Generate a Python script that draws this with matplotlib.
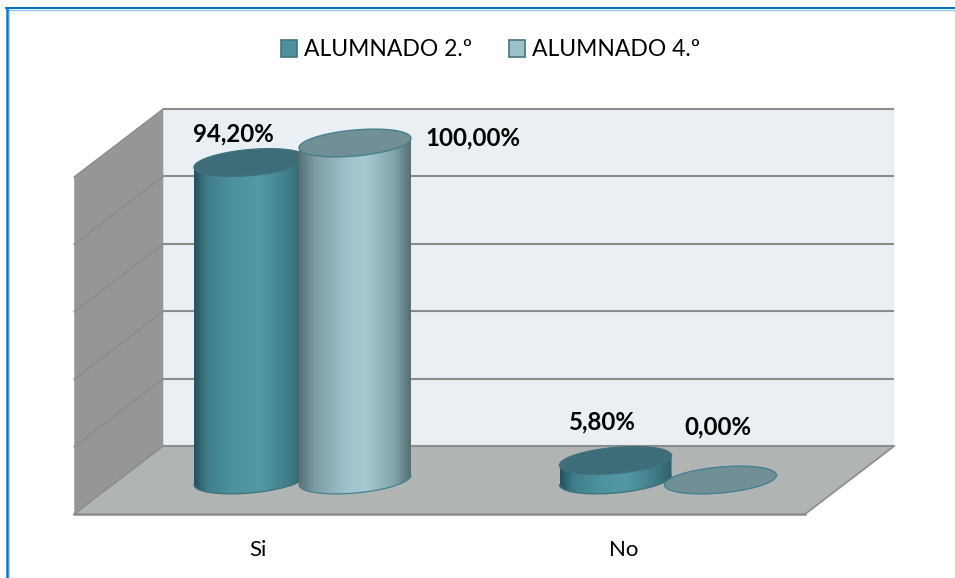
import numpy as np
import matplotlib
matplotlib.use("Agg")
import matplotlib.pyplot as plt
from matplotlib.colors import LinearSegmentedColormap
from matplotlib.lines import Line2D
from matplotlib.patches import Patch, PathPatch, Polygon
from matplotlib.path import Path

categories = ["Si", "No"]
series_names = ["ALUMNADO 2.º", "ALUMNADO 4.º"]
alumnado_2 = [94.2, 5.8]
alumnado_4 = [100.0, 0.0]
labels_2 = ["94,20%", "5,80%"]
labels_4 = ["100,00%", "0,00%"]
grid_values = [0, 20, 40, 60, 80, 100]

plt.rcParams["font.family"] = ["Lato", "DejaVu Sans"]

W, H = 955, 578
PX_X = 365.5   # pixels per category
PX_Y = 3.37    # pixels per percent
ORIGIN_X = 302.5  # pixel of category 0
ORIGIN_Y = 480    # pixel of value 0, middle of the floor depth

fig = plt.figure(figsize=(W / 100, H / 100), dpi=100, facecolor="white")
ax = fig.add_axes([0, 0, 1, 1])
ax.axis("off")

DX = 44.5 / PX_X
DY = 34 / PX_Y
X0, X1 = -0.5 - 1 / PX_X, 1.5 - 1 / PX_X
GRID = "#8b8c8c"

# paredes y suelo
ax.add_patch(Polygon([(X0 + DX, DY), (X1 + DX, DY), (X1 + DX, 100 + DY), (X0 + DX, 100 + DY)],
                     fc="#e9eff2", ec="none", zorder=1))
ax.add_patch(Polygon([(X0 - DX, -DY), (X0 + DX, DY), (X0 + DX, 100 + DY), (X0 - DX, 100 - DY)],
                     fc="#949697", ec="none", zorder=1))
ax.add_patch(Polygon([(X0 - DX, -DY), (X1 - DX, -DY), (X1 + DX, DY), (X0 + DX, DY)],
                     fc="#b0b5b4", ec="none", zorder=1))
for v in grid_values:
    ax.plot([X0 + DX, X1 + DX], [v + DY, v + DY], color=GRID, lw=1.5, zorder=2, solid_capstyle="butt")
    ax.plot([X0 - DX, X0 + DX], [v - DY, v + DY], color=GRID, lw=1.1, zorder=2)
ax.plot([X0 - DX, X1 - DX], [-DY, -DY], color=GRID, lw=1.8, zorder=2)
ax.plot([X1 - DX, X1 + DX], [-DY, DY], color=GRID, lw=1.2, zorder=2)

HALF = 0.1532    # half width of a cylinder, in categories
OFFSET = 0.1436  # distance from the category centre to each cylinder
B = 3.86         # ellipse semi-minor, in percent
SHEAR = 9.3      # percent per category
t = np.linspace(0, 2 * np.pi, 121)


def cylinder(xc, value, stops, top_fc, edge, z):
    ex = HALF * np.cos(t)
    ey = B * np.sin(t) + SHEAR * ex
    if value > 0:
        lower = (t >= np.pi)
        xs = np.r_[xc + ex[lower], xc + ex[lower][::-1]]
        ys = np.r_[ey[lower], value + SHEAR * ex[lower][::-1]]
        body = Path(np.c_[xs, ys])
        cmap = LinearSegmentedColormap.from_list("cyl", stops)
        im = ax.imshow(np.linspace(0, 1, 256)[None, :], cmap=cmap, aspect="auto",
                       extent=(xc - HALF, xc + HALF, -10, value + 10), zorder=z)
        patch = PathPatch(body, fc="none", ec="none", transform=ax.transData)
        ax.add_patch(patch)
        im.set_clip_path(patch)
        ax.plot(xc + ex[lower], ey[lower], color=edge, lw=0.9, zorder=z + 0.1)
    ax.add_patch(Polygon(np.c_[xc + ex, value + ey], fc=top_fc, ec=edge, lw=1.0, zorder=z + 0.2))


stops_2 = [(0, "#24525c"), (0.12, "#3f7d89"), (0.35, "#4e919e"), (0.6, "#5398a5"), (0.85, "#3f7c87"), (1, "#2e5f69")]
stops_4 = [(0, "#5a7076"), (0.15, "#7f9ea6"), (0.45, "#a0c5ce"), (0.6, "#a5cad2"), (0.85, "#83a4ac"), (1, "#566e72")]

for i in range(len(categories)):
    cylinder(i - OFFSET, alumnado_2[i], stops_2, "#3e6c78", "#40717c", 3 + i)
    cylinder(i + OFFSET, alumnado_4[i], stops_4, "#719095", "#46818d", 3.5 + i)

# etiquetas: desplazamiento en pixeles desde el centro de la tapa
offs_2 = [(-17, 29), (-13, 39)]
offs_4 = [(118, 5), (-3, 53)]
for i in range(len(categories)):
    ax.annotate(labels_2[i], (i - OFFSET, alumnado_2[i]), xytext=offs_2[i], textcoords="offset pixels",
                ha="center", va="center", fontsize=17.3, fontweight="bold", color="black", zorder=10)
    ax.annotate(labels_4[i], (i + OFFSET, alumnado_4[i]), xytext=offs_4[i], textcoords="offset pixels",
                ha="center", va="center", fontsize=17.3, fontweight="bold", color="black", zorder=10)
    ax.text(i - DX, -2 * DY - 0.6, categories[i], ha="center", va="center",
            fontsize=16, color="black", zorder=10)

handles = [Patch(fc="#4f8f9b", ec="#3f7680", lw=1.2, label=series_names[0]),
           Patch(fc="#9cc3ca", ec="#44757f", lw=1.2, label=series_names[1])]
ax.legend(handles=handles, ncol=2, frameon=False, loc="center", bbox_to_anchor=(490.5 / W, 1 - 50 / H),
          bbox_transform=fig.transFigure, fontsize=16.5, handlelength=0.7, handleheight=0.7,
          handletextpad=0.3, columnspacing=1.6, borderpad=0, labelcolor="black")

# marco azul
for (xs, ys, c, lw) in [([6.5, W], [9.8, 9.8], "#8ec5ee", 1.0), ([8.6, 8.6], [9, H], "#a9d3f2", 0.8),
                        ([6, W], [8.3, 8.3], "#0070c0", 1.4), ([6.8, 6.8], [8, H], "#0e78c8", 1.8)]:
    fig.add_artist(Line2D(np.array(xs) / W, 1 - np.array(ys) / H, color=c, lw=lw, transform=fig.transFigure))

ax.set_xlim((0 - ORIGIN_X) / PX_X, (W - ORIGIN_X) / PX_X)
ax.set_ylim((ORIGIN_Y - H) / PX_Y, ORIGIN_Y / PX_Y)

fig.savefig("out.png", dpi=100, facecolor="white")
